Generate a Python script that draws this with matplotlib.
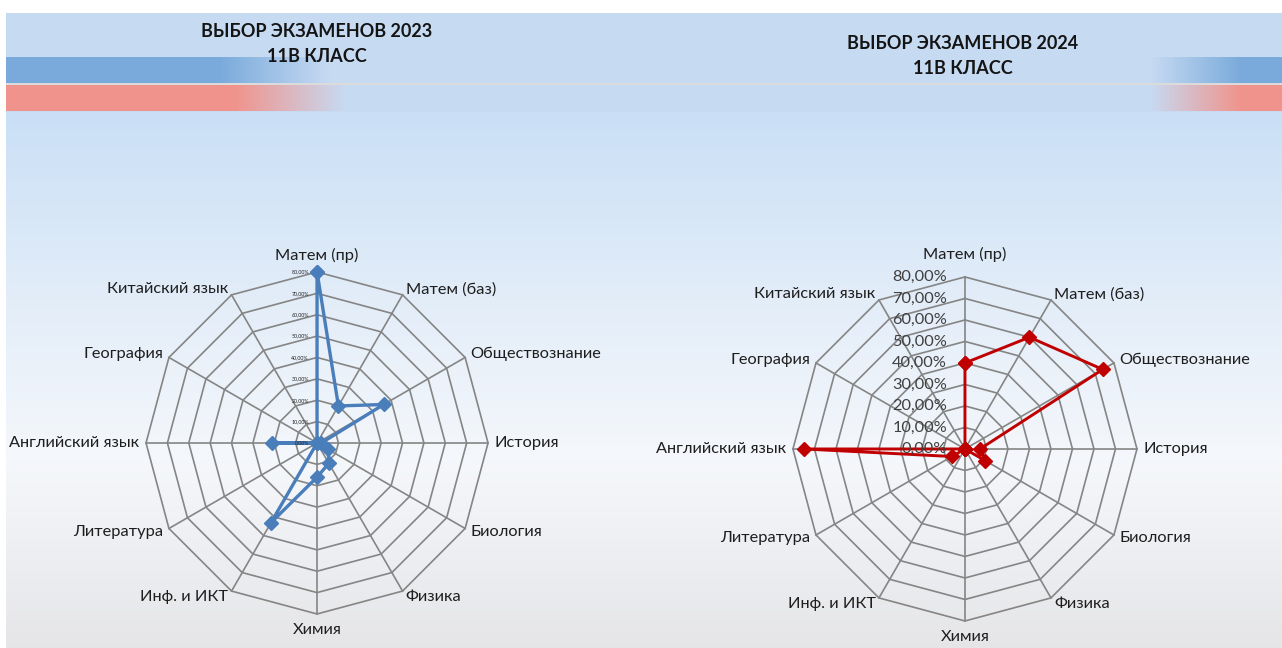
import numpy as np
import matplotlib
matplotlib.use("Agg")
import matplotlib.pyplot as plt
from matplotlib.transforms import offset_copy

# data
subjects = ["Матем (пр)", "Матем (баз)", "Обществознание", "История", "Биология",
            "Физика", "Химия", "Инф. и ИКТ", "Литература", "Английский язык",
            "География", "Китайский язык"]
share_2023 = [80, 20, 36, 2, 6, 11, 16, 43, 0, 21, 0, 0]
share_2024 = [40, 60, 74, 7, 11, 0, 0, 0, 7, 75, 0, 0]
ring_levels = [0, 10, 20, 30, 40, 50, 60, 70, 80]
ring_labels = [f"{v},00%" for v in ring_levels]
titles = ["ВЫБОР ЭКЗАМЕНОВ 2023\n11В КЛАСС", "ВЫБОР ЭКЗАМЕНОВ 2024\n11В КЛАСС"]

W, H = 1282, 648
fig = plt.figure(figsize=(W / 100, H / 100), dpi=100)

# slide background
y = np.arange(H)
bg = np.ones((H, W, 3))
lower = np.stack([np.interp(y, [112, 300, 460, 648], c) for c in
                  ([0.79, 0.89, 0.96, 0.90], [0.875, 0.93, 0.97, 0.90], [0.965, 0.975, 0.985, 0.91])], axis=1)
bg[:, :, :] = lower[:, None, :]
banner = np.array([0.78, 0.855, 0.95])
bg[13:112, :, :] = banner
x = np.arange(W)
fade_l_blue = np.clip((330 - x) / 110, 0, 1)
fade_l_red = np.clip((345 - x) / 110, 0, 1)
fade_r = np.clip((x - 1150) / 90, 0, 1)
blue = np.array([0.48, 0.67, 0.86])
red = np.array([0.94, 0.58, 0.55])
fb = np.maximum(fade_l_blue, fade_r)[:, None]
fr = np.maximum(fade_l_red, fade_r)[:, None]
bg[57:83, :, :] = banner * (1 - fb) + blue * fb
bg[85:111, :, :] = banner * (1 - fr) + red * fr
bg[83:85, :, :] = 0.86
bg[:13, :, :] = 1.0
bg[:, :6, :] = 1.0
bax = fig.add_axes([0, 0, 1, 1], zorder=0)
bax.imshow(bg, aspect="auto", interpolation="bilinear")
bax.axis("off")

label_font = ["Lato", "DejaVu Sans"]


def radar(rect, values, color, lw, tick_size, tick_color, tick_dx, top_r):
    ax = fig.add_axes(rect, projection="polar", zorder=2)
    ang = np.linspace(0, 2 * np.pi, len(subjects), endpoint=False)
    ax.set_theta_offset(np.pi / 2)
    ax.set_theta_direction(-1)
    ax.set_ylim(0, 80)
    ax.set_facecolor("none")
    ax.grid(False)
    ax.spines["polar"].set_visible(False)
    ax.set_xticks([])
    ax.set_yticks([])
    closed = np.append(ang, ang[0])
    for lv in ring_levels[1:]:
        ax.plot(closed, [lv] * len(closed), color="#858585", lw=1.2, zorder=1, clip_on=False)
    for a in ang:
        ax.plot([a, a], [0, 80], color="#858585", lw=1.2, zorder=1, clip_on=False)
    ax.plot(closed, values + values[:1], color=color, lw=lw, marker="D", ms=7.5,
            zorder=3, clip_on=False)
    tr = offset_copy(ax.transData, fig=fig, x=tick_dx, y=0, units="dots")
    for lv, lab in zip(ring_levels, ring_labels):
        ax.text(0, lv, lab, transform=tr, ha="right", va="center", fontsize=tick_size,
                color=tick_color, family=label_font, zorder=4)
    for a, name in zip(ang, subjects):
        deg = np.degrees(a)
        kw = dict(fontsize=11.8, color="#1e1e1e", family=label_font)
        if deg == 0:
            ax.text(a, top_r, name, ha="center", va="bottom", **kw)
        elif deg == 180:
            ax.text(a, 84, name, ha="center", va="top", **kw)
        else:
            ax.text(a, 83, name, ha="left" if deg < 180 else "right", va="center", **kw)
    return ax


radar([0.1139, 0.0525, 0.2668, 0.5278], share_2023, "#4A7EBB", 2.4, 3.8, "#222222", -8, 84)
radar([0.6185, 0.0417, 0.2684, 0.5309], share_2024, "#C00000", 2.1, 11.8, "#404040", -18, 87)

fig.text(317 / W, 1 - 44 / H, titles[0], ha="center", va="center", fontsize=13,
         fontweight="bold", family=label_font, color="#141414", linespacing=1.6)
fig.text(963 / W, 1 - 56 / H, titles[1], ha="center", va="center", fontsize=13,
         fontweight="bold", family=label_font, color="#141414", linespacing=1.6)

fig.savefig("out.png", dpi=100)
